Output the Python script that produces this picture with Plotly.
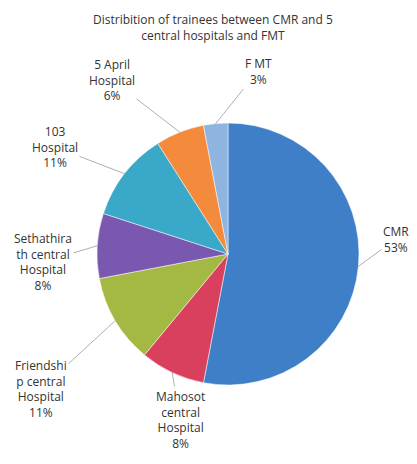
import math
import plotly.graph_objects as go

labels = ["CMR", "Mahosot central Hospital", "Friendship central Hospital",
          "Sethathirath central Hospital", "103 Hospital", "5 April Hospital", "F MT"]
values = [53, 8, 11, 8, 11, 6, 3]
label_texts = ["CMR<br>53%", "Mahosot<br>central<br>Hospital<br>8%",
               "Friendshi<br>p central<br>Hospital<br>11%",
               "Sethathira<br>th central<br>Hospital<br>8%",
               "103<br>Hospital<br>11%", "5 April<br>Hospital<br>6%", "F MT<br>3%"]
colors = ["#3f7fc8", "#d8405e", "#a4b844", "#7a58b0", "#3aa8c8", "#f48a3c", "#8fb4e0"]

W, H = 417, 464
CX, CY, R = 228, 254, 131  # pie centre / radius in pixels
# label text centres (pixels, layout only)
label_pos = [(396, 239), (180, 420), (41, 389), (43, 262), (55, 147), (112, 80), (258, 71)]

fig = go.Figure(go.Pie(
    labels=labels, values=values, sort=False, direction="clockwise", rotation=0,
    marker=dict(colors=colors, line=dict(color="white", width=0.5)),
    textinfo="none", hoverinfo="label+percent", showlegend=False,
    domain=dict(x=[(CX - R) / W, (CX + R) / W], y=[1 - (CY + R) / H, 1 - (CY - R) / H]),
))

total = sum(values)
cum = 0
annotations = []
for v, t, (lx, ly) in zip(values, label_texts, label_pos):
    theta = 2 * math.pi * (cum + v / 2) / total
    cum += v
    ex = CX + R * math.sin(theta)
    ey = CY - R * math.cos(theta)
    annotations.append(dict(
        x=ex / W, y=1 - ey / H, xref="paper", yref="paper",
        ax=lx - ex, ay=ly - ey, text=t, showarrow=True, arrowhead=0,
        arrowwidth=0.8, arrowcolor="#9a9a9a", standoff=0,
        font=dict(family="Open Sans", size=12, color="#333333"), align="center",
    ))

annotations.append(dict(
    x=213 / W, y=1 - 27 / H, xref="paper", yref="paper", showarrow=False,
    xanchor="center", yanchor="middle",
    text="Distribition of trainees between CMR and 5<br>central hospitals and FMT",
    font=dict(family="Open Sans", size=12, color="#333333"), align="center",
))

fig.update_layout(
    width=W, height=H, margin=dict(l=0, r=0, t=0, b=0),
    paper_bgcolor="white", plot_bgcolor="white", annotations=annotations,
)
fig.write_html("out.html", config={"displayModeBar": False},
               post_script="document.body.style.margin='0';")
